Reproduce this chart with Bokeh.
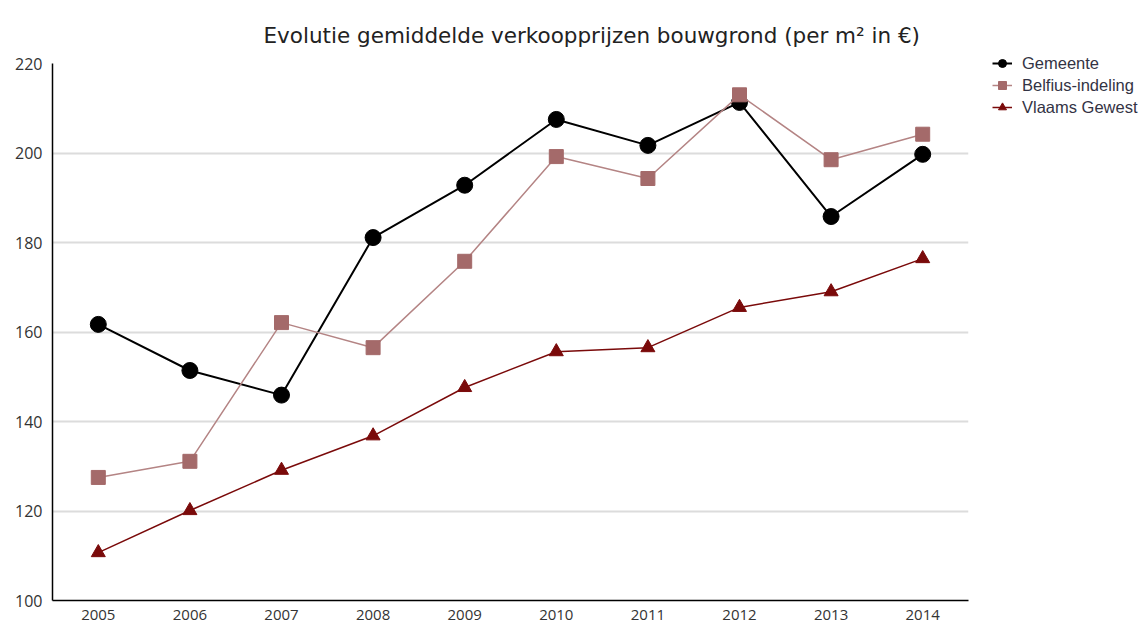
from bokeh.plotting import figure
from bokeh.models import Legend, LegendItem, Range1d, FactorRange, SingleIntervalTicker
from bokeh.embed import file_html
from bokeh.resources import INLINE

years = ["2005", "2006", "2007", "2008", "2009", "2010", "2011", "2012", "2013", "2014"]
gemeente = [161.7, 151.4, 145.9, 181.1, 192.8, 207.5, 201.7, 211.3, 185.8, 199.7]
belfius = [127.5, 131.1, 162.1, 156.5, 175.8, 199.2, 194.3, 213.0, 198.5, 204.2]
vlaams = [110.7, 120.1, 129.1, 136.8, 147.6, 155.6, 156.5, 165.5, 169.0, 176.4]
series_names = ["Gemeente", "Belfius-indeling", "Vlaams Gewest"]
title_text = "Evolutie gemiddelde verkoopprijzen bouwgrond (per m\u00b2 in \u20ac)"

p = figure(frame_width=916, frame_height=537, x_range=FactorRange(*years), y_range=Range1d(100, 220),
           output_backend="svg", toolbar_location=None,
           min_border_left=52, min_border_right=173, min_border_top=63, min_border_bottom=24)
p.outline_line_color = None
p.background_fill_color = "white"

p.title.text = title_text
p.title.align = "left"
p.title.offset = 211
p.title.text_font = "DejaVu Sans"
p.title.text_font_size = "21.5px"
p.title.text_font_style = "normal"
p.title.text_color = "#222222"
p.title.standoff = 31

p.xgrid.grid_line_color = None
p.ygrid.grid_line_color = "#dcdcdc"
p.ygrid.grid_line_width = 2
p.yaxis.ticker = SingleIntervalTicker(interval=20)

for ax in (p.xaxis[0], p.yaxis[0]):
    ax.axis_line_color = "black"
    ax.axis_line_width = 1.5
    ax.major_tick_line_color = None
    ax.minor_tick_line_color = None
    ax.major_label_text_font = "Open Sans"
    ax.major_label_text_color = "#333333"
p.xaxis.major_label_text_font_size = "15px"
p.yaxis.major_label_text_font_size = "16px"
p.xaxis.major_label_standoff = 3
p.yaxis.major_label_standoff = 4

r1l = p.line(years, gemeente, line_color="black", line_width=2)
r1m = p.scatter(years, gemeente, marker="circle", size=16, fill_color="black", line_color="black")
r2l = p.line(years, belfius, line_color="#b48484", line_width=1.5)
r2m = p.scatter(years, belfius, marker="square", size=14, fill_color="#a46a6a", line_color="#a46a6a")
r3l = p.line(years, vlaams, line_color="#7a0a0a", line_width=1.5)
r3m = p.scatter(years, vlaams, marker="triangle", size=14, fill_color="#7a0a0a", line_color="#7a0a0a")

legend = Legend(items=[
    LegendItem(label=series_names[0], renderers=[r1l, r1m]),
    LegendItem(label=series_names[1], renderers=[r2l, r2m]),
    LegendItem(label=series_names[2], renderers=[r3l, r3m]),
], location=(24, 482))
legend.border_line_color = None
legend.background_fill_alpha = 0
legend.label_text_font = "Liberation Sans"
legend.label_text_font_size = "16.5px"
legend.label_text_color = "#333344"
legend.glyph_width = 20
legend.glyph_height = 22
legend.label_height = 22
legend.label_standoff = 10
legend.spacing = 0
legend.padding = 0
legend.margin = 0
p.add_layout(legend, "right")

open("out.html", "w").write(file_html(p, INLINE))
